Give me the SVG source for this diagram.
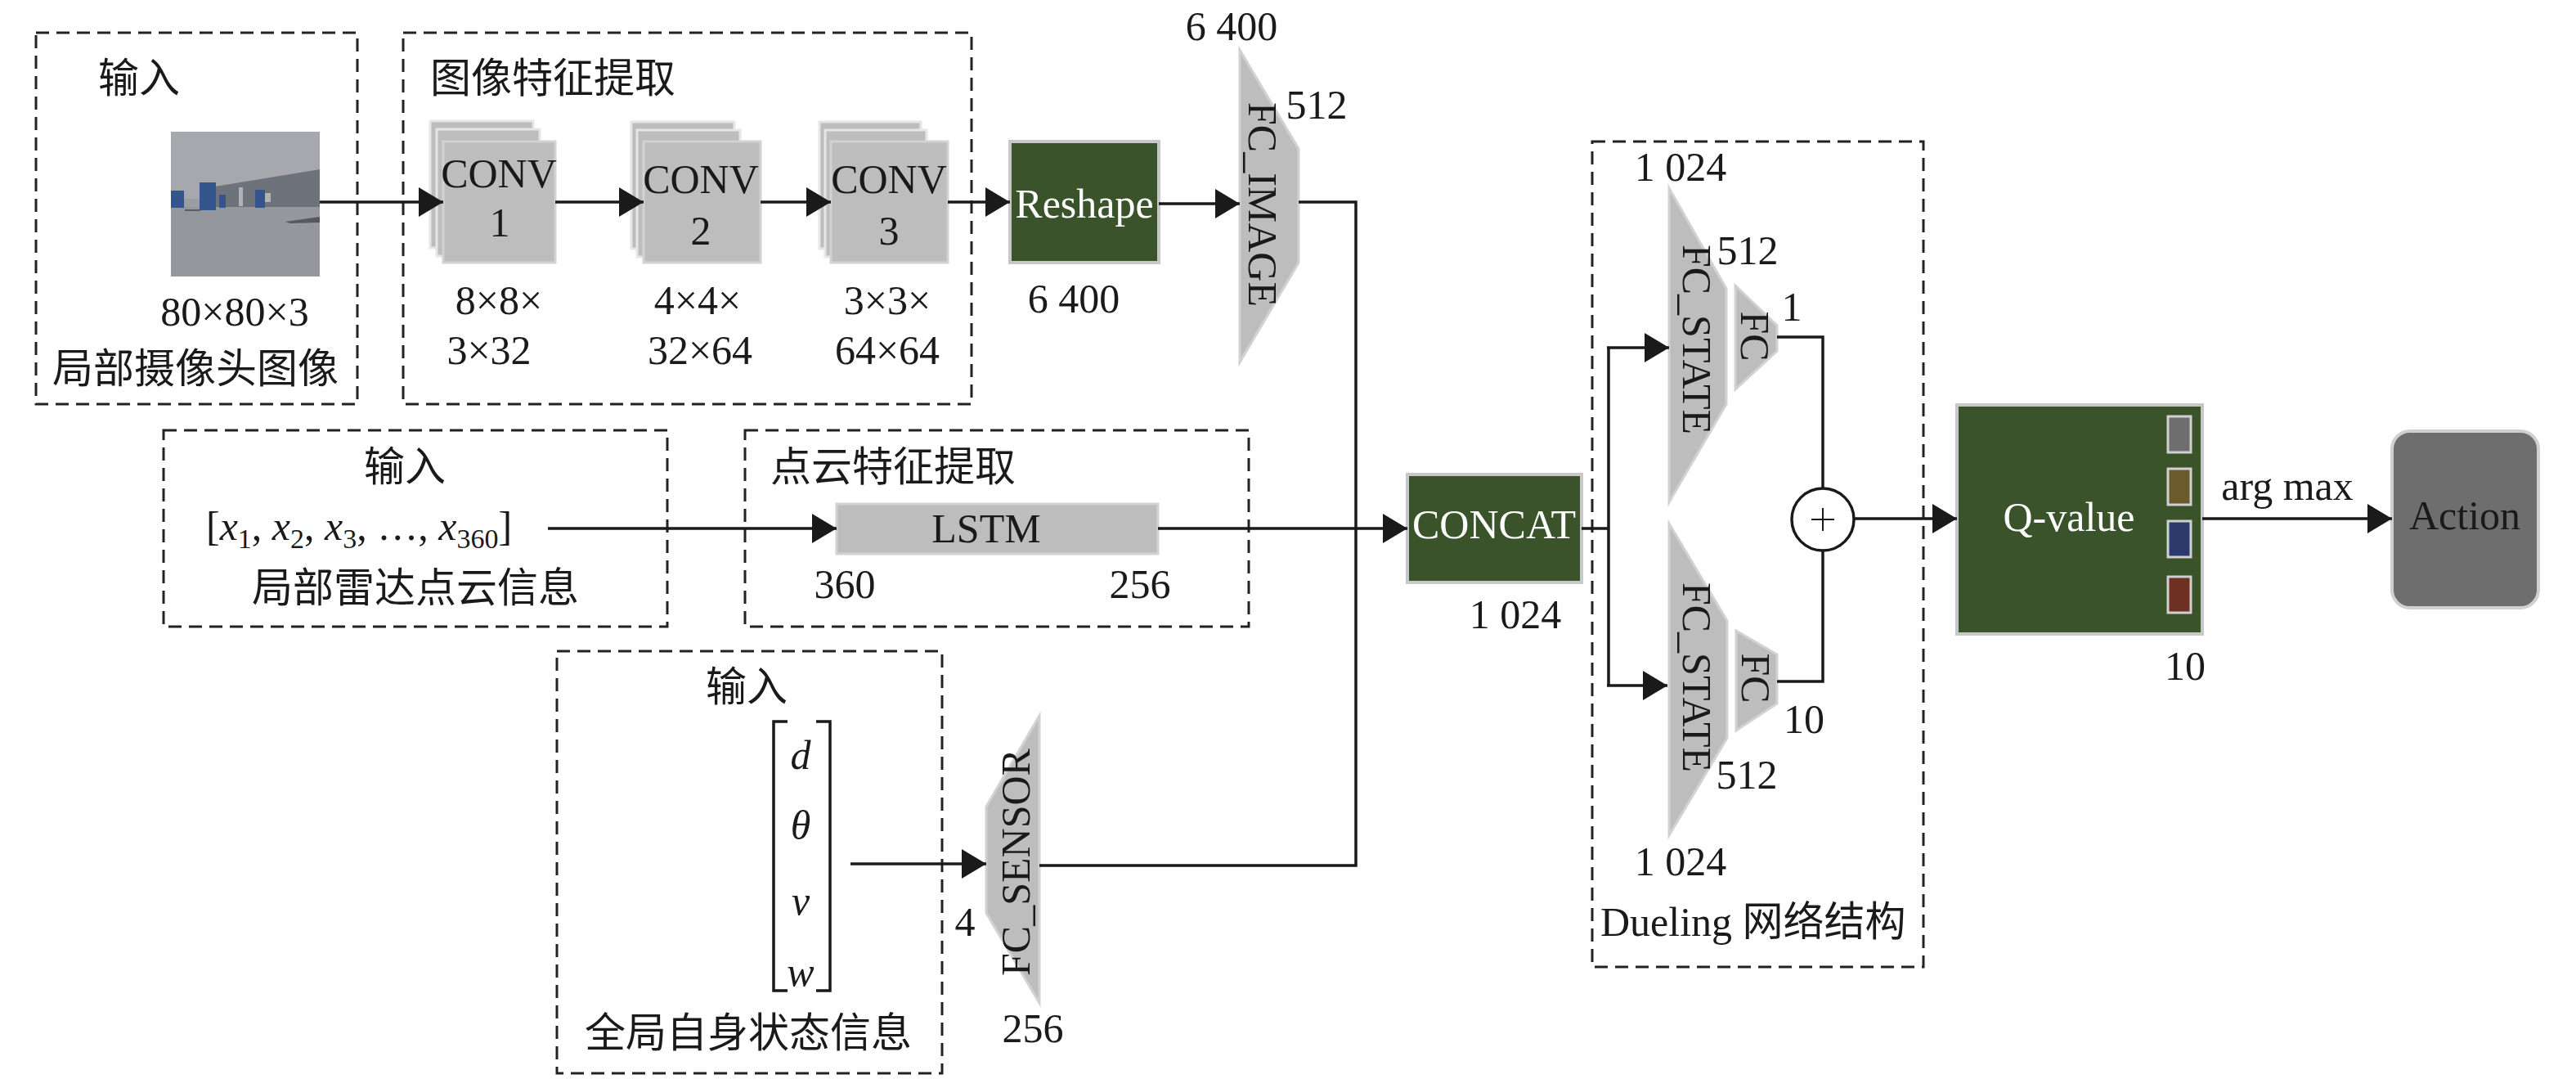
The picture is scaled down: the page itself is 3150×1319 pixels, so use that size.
<svg xmlns="http://www.w3.org/2000/svg" width="3150" height="1319" viewBox="0 0 3150 1319">
<defs>
<style>
.t{font-family:"Liberation Serif","Noto Sans CJK SC",serif;font-size:50px;fill:#1a1a1a}
.c{text-anchor:middle;dominant-baseline:central}
.s{dominant-baseline:central}
.w{fill:#ffffff}
.i{font-style:italic}
.box{fill:none;stroke:#222;stroke-width:3;stroke-dasharray:16 9}
.green{fill:#3b532b;stroke:#c8c8c8;stroke-width:4}
.gray{fill:#bdbdbd;stroke:#d2d2d2;stroke-width:3}
.back{fill:#bdbdbd;stroke:#e6e6e6;stroke-width:3}
.ln{fill:none;stroke:#1a1a1a;stroke-width:3.5}
.arr{marker-end:url(#ah)}
</style>
<marker id="ah" markerUnits="userSpaceOnUse" markerWidth="30" markerHeight="36" refX="30" refY="18" orient="auto">
<path d="M0,0 L30,18 L0,36 Z" fill="#1a1a1a"/>
</marker>
</defs>
<rect width="3150" height="1319" fill="#ffffff"/>

<g id="box-camera-input">
<rect class="box" x="44" y="40" width="393" height="454"/>
<text class="t c" x="170" y="96">输入</text>
<g id="camera-image">
<rect x="209" y="161" width="182" height="177" fill="#94979c"/>
<rect x="209" y="161" width="182" height="92" fill="#a6a8ad"/>
<polygon points="263,228 391,207 391,253 263,253" fill="#6e737b"/>
<rect x="209" y="243" width="54" height="10" fill="#9a9da2"/>
<rect x="292" y="229" width="5" height="23" fill="#b0b2b5"/>
<rect x="324" y="236" width="7" height="11" fill="#b0b2b5"/>
<rect x="209" y="233" width="16" height="21" fill="#34558c"/>
<rect x="244" y="223" width="20" height="34" fill="#34558c"/>
<rect x="268" y="238" width="8" height="16" fill="#34558c"/>
<rect x="312" y="232" width="12" height="22" fill="#34558c"/>
<rect x="226" y="256" width="19" height="2" fill="#5a5e64"/>
<polygon points="349,271 391,265 391,272 355,273" fill="#55595f"/>
</g>
<text class="t c" x="287" y="381">80×80×3</text>
<text class="t c" x="239" y="451">局部摄像头图像</text>
</g>

<g id="box-image-features">
<rect class="box" x="493" y="40" width="695" height="454"/>
<text class="t s" x="526" y="96">图像特征提取</text>
</g>

<g id="conv1">
<rect class="back" x="526" y="148" width="126" height="155"/>
<rect class="back" x="534" y="158" width="126" height="155"/>
<rect class="gray" x="542" y="173" width="137" height="148" stroke="none"/>
<text class="t c" x="610" y="212">CONV</text>
<text class="t c" x="611" y="272">1</text>
<text class="t c" x="610" y="367">8×8×</text>
<text class="t c" x="598" y="428">3×32</text>
</g>
<g id="conv2">
<rect class="back" x="772" y="149" width="126" height="155"/>
<rect class="back" x="779" y="159" width="126" height="155"/>
<rect class="gray" x="787" y="173" width="143" height="148" stroke="none"/>
<text class="t c" x="857" y="219">CONV</text>
<text class="t c" x="857" y="282">2</text>
<text class="t c" x="853" y="367">4×4×</text>
<text class="t c" x="856" y="428">32×64</text>
</g>
<g id="conv3">
<rect class="back" x="1002" y="149" width="124" height="155"/>
<rect class="back" x="1009" y="159" width="124" height="155"/>
<rect class="gray" x="1016" y="173" width="143" height="148" stroke="none"/>
<text class="t c" x="1087" y="219">CONV</text>
<text class="t c" x="1087" y="282">3</text>
<text class="t c" x="1085" y="367">3×3×</text>
<text class="t c" x="1085" y="428">64×64</text>
</g>

<g id="reshape">
<rect class="green" x="1235" y="173" width="182" height="148"/>
<text class="t c w" x="1326" y="249">Reshape</text>
<text class="t c" x="1313" y="365">6 400</text>
</g>

<g id="fc-image">
<polygon class="gray" points="1516,61 1588,182 1588,321 1516,443"/>
<text class="t c" x="1544" y="250" transform="rotate(90 1544 250)">FC_IMAGE</text>
<text class="t c" x="1506" y="32">6 400</text>
<text class="t c" x="1610" y="128">512</text>
</g>

<g id="box-lidar-input">
<rect class="box" x="200" y="526" width="616" height="240"/>
<text class="t c" x="495" y="571">输入</text>
<text class="t" x="252" y="660">[<tspan class="i">x</tspan><tspan font-size="34" dy="10">1</tspan><tspan dy="-10">, </tspan><tspan class="i">x</tspan><tspan font-size="34" dy="10">2</tspan><tspan dy="-10">, </tspan><tspan class="i">x</tspan><tspan font-size="34" dy="10">3</tspan><tspan dy="-10">, …, </tspan><tspan class="i">x</tspan><tspan font-size="34" dy="10">360</tspan><tspan dy="-10">]</tspan></text>
<text class="t c" x="508" y="719">局部雷达点云信息</text>
</g>

<g id="box-lidar-features">
<rect class="box" x="911" y="526" width="616" height="240"/>
<text class="t s" x="942" y="571">点云特征提取</text>
</g>

<g id="lstm">
<rect class="gray" x="1023" y="616" width="393" height="61"/>
<text class="t c" x="1206" y="646">LSTM</text>
<text class="t c" x="1033" y="714">360</text>
<text class="t c" x="1394" y="714">256</text>
</g>

<g id="box-state-input">
<rect class="box" x="681" y="796" width="471" height="516"/>
<text class="t c" x="913" y="840">输入</text>
<path class="ln" d="M963,882 H946 V1211 H963 M998,882 H1015 V1211 H998" stroke-width="3"/>
<text class="t c i" x="979" y="923">d</text>
<text class="t c i" x="979" y="1009">θ</text>
<text class="t c i" x="979" y="1101">v</text>
<text class="t c i" x="979" y="1188">w</text>
<text class="t c" x="915" y="1263">全局自身状态信息</text>
</g>

<g id="fc-sensor">
<polygon class="gray" points="1206,986 1271,875 1271,1226 1206,1116"/>
<text class="t c" x="1242" y="1054" transform="rotate(-90 1242 1054)">FC_SENSOR</text>
<text class="t c" x="1180" y="1127">4</text>
<text class="t c" x="1263" y="1257">256</text>
</g>

<g id="concat">
<rect class="green" x="1721" y="580" width="213" height="132"/>
<text class="t c w" x="1827" y="641">CONCAT</text>
<text class="t c" x="1853" y="751">1 024</text>
</g>

<g id="box-dueling">
<rect class="box" x="1947" y="173" width="405" height="1009"/>
<text class="t s" x="1957" y="1127">Dueling 网络结构</text>
</g>

<g id="fc-state-value">
<polygon class="gray" points="2041,230 2111,353 2111,494 2041,614"/>
<text class="t c" x="2075" y="415" transform="rotate(90 2075 415)">FC_STATE</text>
<text class="t c" x="2055" y="204">1 024</text>
<text class="t c" x="2137" y="306">512</text>
</g>
<g id="fc-value">
<polygon class="gray" points="2122,349 2173,398 2173,429 2122,476"/>
<text class="t c" x="2146" y="411" transform="rotate(90 2146 411)">FC</text>
<text class="t c" x="2191" y="375">1</text>
</g>

<g id="fc-state-adv">
<polygon class="gray" points="2041,640 2112,759 2112,902 2041,1021"/>
<text class="t c" x="2075" y="828" transform="rotate(90 2075 828)">FC_STATE</text>
<text class="t c" x="2136" y="947">512</text>
<text class="t c" x="2055" y="1053">1 024</text>
</g>
<g id="fc-adv">
<polygon class="gray" points="2123,771 2173,800 2173,860 2123,893"/>
<text class="t c" x="2147" y="829" transform="rotate(90 2147 829)">FC</text>
<text class="t c" x="2206" y="879">10</text>
</g>

<g id="plus">
<circle cx="2229" cy="635" r="38" fill="#ffffff" stroke="#1a1a1a" stroke-width="3.5"/>
<path d="M2215,635 H2243 M2229,621 V649" stroke="#1a1a1a" stroke-width="2"/>
</g>

<g id="q-value">
<rect class="green" x="2393" y="495" width="300" height="280"/>
<text class="t c w" x="2530" y="632">Q-value</text>
<rect x="2651" y="509" width="28" height="44" fill="#6e6e6e" stroke="#d0d0d0" stroke-width="3"/>
<rect x="2651" y="573" width="28" height="44" fill="#6b5a2a" stroke="#d0d0d0" stroke-width="3"/>
<rect x="2651" y="637" width="28" height="44" fill="#2c3b6b" stroke="#d0d0d0" stroke-width="3"/>
<rect x="2651" y="705" width="28" height="44" fill="#6e3020" stroke="#d0d0d0" stroke-width="3"/>
<text class="t c" x="2672" y="814">10</text>
</g>

<g id="action">
<rect x="2925" y="527" width="179" height="216" rx="22" fill="#6e6e6e" stroke="#d0d0d0" stroke-width="4"/>
<text class="t c" x="3014" y="630">Action</text>
</g>

<g id="connectors">
<line class="ln arr" x1="391" y1="247" x2="542" y2="247"/>
<line class="ln arr" x1="679" y1="247" x2="787" y2="247"/>
<line class="ln arr" x1="930" y1="247" x2="1016" y2="247"/>
<line class="ln arr" x1="1159" y1="247" x2="1235" y2="247"/>
<line class="ln arr" x1="1417" y1="249" x2="1516" y2="249"/>
<path class="ln" d="M1588,247 H1658 V1058 H1271"/>
<line class="ln arr" x1="670" y1="646" x2="1023" y2="646"/>
<line class="ln arr" x1="1416" y1="646" x2="1721" y2="646"/>
<line class="ln arr" x1="1040" y1="1056" x2="1206" y2="1056"/>
<path class="ln" d="M1934,646 H1967 M1967,425 V838"/>
<line class="ln arr" x1="1965" y1="425" x2="2041" y2="425"/>
<line class="ln arr" x1="1965" y1="838" x2="2039" y2="838"/>
<path class="ln" d="M2173,412 H2229 V597 M2173,833 H2229 V673"/>
<line class="ln arr" x1="2267" y1="634" x2="2393" y2="634"/>
<line class="ln arr" x1="2693" y1="634" x2="2925" y2="634"/>
<text class="t c" x="2797" y="594">arg max</text>
</g>
</svg>
